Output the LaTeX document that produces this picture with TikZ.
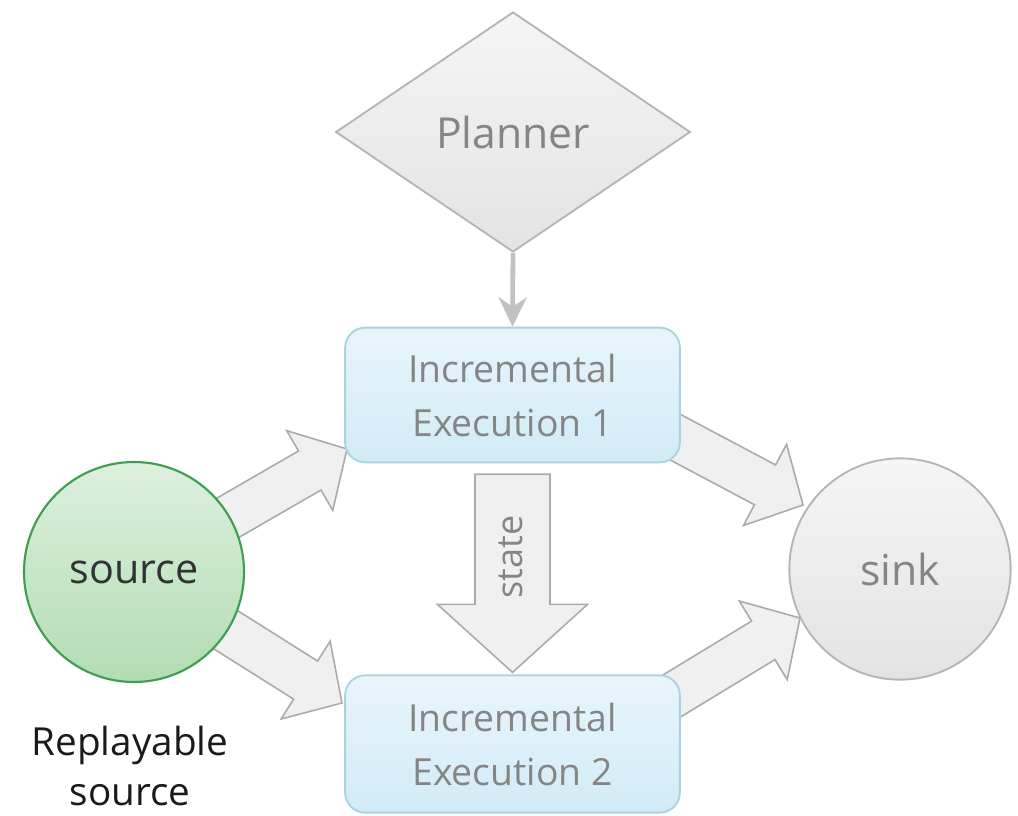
\documentclass[tikz,border=0pt]{standalone}
\usepackage{fontspec}
\setmainfont{Open Sans}
\usetikzlibrary{shapes.geometric,calc,arrows.meta,backgrounds}
\definecolor{boxtop}{HTML}{E8F5FB}
\definecolor{boxbot}{HTML}{D2EBF6}
\definecolor{boxline}{HTML}{A9D3DF}
\definecolor{dtop}{HTML}{F5F5F5}
\definecolor{dbot}{HTML}{E3E3E3}
\definecolor{dline}{HTML}{B5B5B5}
\definecolor{srctop}{HTML}{DDF0DD}
\definecolor{srcbot}{HTML}{B2DCB4}
\definecolor{srcline}{HTML}{3F9E50}
\definecolor{fatfill}{HTML}{F0F0F0}
\definecolor{fatline}{HTML}{ABABAB}
\definecolor{txtgray}{HTML}{858585}
\definecolor{thinarrow}{HTML}{C2C2C2}
\definecolor{srctext}{HTML}{333333}
\definecolor{reptext}{HTML}{1A1A1A}
\newcommand\fatarrow[2]{%
  \coordinate (hb) at ($(#2)!32.25pt!(#1)$);
  \draw[fat] ($(#1)!16.9pt!90:(#2)$) -- ($(hb)!16.9pt!90:(#2)$) -- ($(hb)!34.5pt!90:(#2)$)
    -- (#2) -- ($(hb)!34.5pt!-90:(#2)$) -- ($(hb)!16.9pt!-90:(#2)$) -- ($(#1)!16.9pt!-90:(#2)$) -- cycle;}
\begin{document}
\begin{tikzpicture}[x=0.75pt,y=-0.75pt,
  box/.style={rectangle, rounded corners=15pt, draw=boxline, top color=boxtop, bottom color=boxbot,
    line width=1.4pt, minimum width=251pt, minimum height=101pt, align=center, text=txtgray,
    font=\fontsize{28}{40.5}\selectfont, inner sep=0pt},
  plan/.style={diamond, draw=dline, top color=dtop, bottom color=dbot, line width=1.4pt,
    minimum width=266pt, minimum height=180pt, inner sep=0pt, text=txtgray, font=\fontsize{32}{38}\selectfont},
  srcnode/.style={circle, draw=srcline, top color=srctop, bottom color=srcbot, line width=1.6pt,
    minimum size=165pt, inner sep=0pt, text=srctext, font=\fontsize{31}{37}\selectfont},
  sinknode/.style={circle, draw=dline, top color=dtop, bottom color=dbot, line width=1.4pt,
    minimum size=166pt, inner sep=0pt, text=txtgray, font=\fontsize{32}{38}\selectfont},
  fat/.style={draw=fatline, fill=fatfill, line width=1.2pt, line join=miter},
  thin/.style={draw=thinarrow, line width=3.6pt, -{Stealth[length=22pt,width=21pt,inset=7pt]}},
  lbl/.style={inner sep=0pt}
]
\useasboundingbox (0,0) rectangle (1018,815);
\node[plan] (planner) at (513,132) {Planner};
\node[box] (e1) at (512.5,395) {Incremental\\Execution 1};
\node[box, minimum height=103pt] (e2) at (512.5,744) {Incremental\\Execution 2};
\node[srcnode] (src) at (134,572) {source};
\node[sinknode] (sink) at (900,569) {sink};
\node[lbl, align=center, text=reptext, font=\fontsize{29}{37.5}\selectfont] (rep) at (130,766) {Replayable\\source};

\begin{scope}[on background layer]
  \coordinate (t1) at (347,449);
  \coordinate (t2) at (342,703);
  \coordinate (s3) at (626,411);
  \coordinate (t3) at (803,505);
  \coordinate (s4) at (629,722);
  \coordinate (t4) at (800,618);
  \fatarrow{src.center}{t1}
  \fatarrow{src.center}{t2}
  \fatarrow{s3}{t3}
  \fatarrow{s4}{t4}
\end{scope}

\coordinate (st) at ($(e1.south)+(0,11)$);
\coordinate (sb) at ($(e2.north)+(0,-2)$);
\draw[fat] ($(st)+(-37.5,0)$) -- ($(st)+(37.5,0)$) -- ($(sb)+(37.5,-68)$) -- ($(sb)+(75,-68)$)
  -- (sb) -- ($(sb)+(-75,-68)$) -- ($(sb)+(-37.5,-68)$) -- cycle;
\node[lbl, rotate=90, text=txtgray, font=\fontsize{27}{32}\selectfont] (state) at (511,557) {state};

\draw[thin] (planner.south) -- (e1.north);
\end{tikzpicture}
\end{document}
